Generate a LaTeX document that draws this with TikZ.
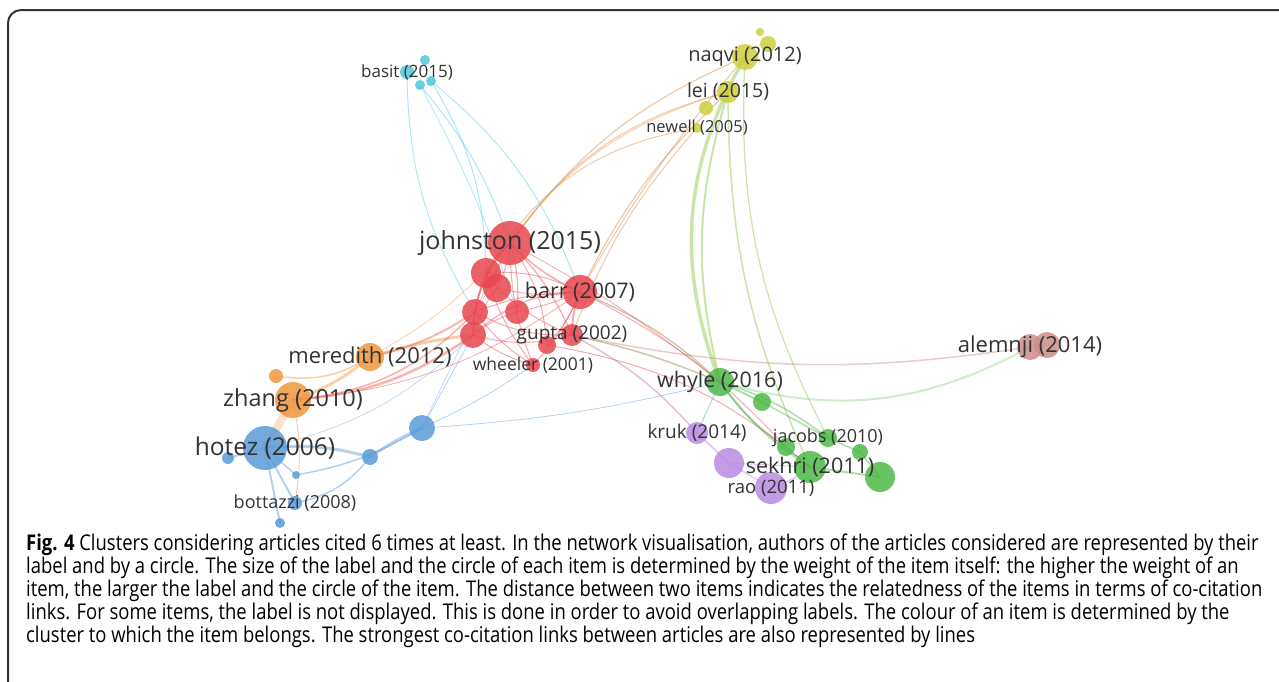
\documentclass[tikz,border=0pt]{standalone}
\usepackage{fontspec}
\usepackage{xcolor}
\newfontfamily\vosfont{Open Sans}
\newfontfamily\capfont[FakeStretch=0.85]{Open Sans}
\definecolor{vRed}{HTML}{E8454E}
\definecolor{vGreen}{HTML}{4DB848}
\definecolor{vBlue}{HTML}{5A9BD8}
\definecolor{vYellow}{HTML}{CBCF3C}
\definecolor{vPurple}{HTML}{B88BE3}
\definecolor{vCyan}{HTML}{4CC9DD}
\definecolor{vOrange}{HTML}{F0963C}
\definecolor{vBrown}{HTML}{C98D88}
\definecolor{vGrey}{HTML}{333333}
\pgfdeclarelayer{links}
\pgfsetlayers{links,main}

\begin{document}
\begin{tikzpicture}[x=1pt,y=-1pt]
    \tikzset{
        item/.style={circle,inner sep=0pt,draw=none,fill=#1,fill opacity=0.85},
        lbl/.style={text=vGrey,inner sep=0pt,font=\vosfont},
        link/.style={draw=#1,draw opacity=0.45,line cap=round},
        capline/.style={anchor=base west,inner sep=0pt,text=black,font=\capfont\fontsize{21.7}{23}\selectfont}
    };
    \useasboundingbox (0,0) rectangle (1279,681);
    \begin{scope}
    \clip (0,0) rectangle (1279,681);
    \draw[vGrey,line width=2pt,rounded corners=13pt] (8,700) -- (8,10) -- (1300,10);
    \end{scope}
    % items
    \foreach \n/\x/\y/\r/\c in {basit/407/72/7/vCyan, c2/425/60/5/vCyan, c3/420/85/5/vCyan, c4/431/81/5/vCyan,
        y1/760/32/4/vYellow, y2/768/44/8/vYellow, naqvi/745/57/13/vYellow, lei/728/92/11/vYellow, y3/706/108/7/vYellow, newell/697/128/5/vYellow,
        johnston/510/243/22/vRed, r1/486/273/15/vRed, r2/497/288/14/vRed, barr/580/292/17/vRed, r3/475/312/13/vRed,
        r4/517/312/12/vRed, r5/473/335/13/vRed, r6/547/345/9/vRed, gupta/572/335/11/vRed, wheeler/533/365/7/vRed,
        meredith/370/357/14/vOrange, o1/276/376/7/vOrange, zhang/293/400/18/vOrange,
        hotez/265/448/22/vBlue, b1/422/428/13/vBlue, b2/370/457/8/vBlue, b3/228/458/6/vBlue, b4/296/475/4/vBlue,
        bottazzi/295/503/7/vBlue, b5/280/523/5/vBlue,
        whyle/720/382/14/vGreen, g1/762/402/9/vGreen, g2/786/447/9/vGreen, jacobs/828/438/9/vGreen,
        g3/860/452/8/vGreen, sekhri/810/467/16/vGreen, g4/880/477/15/vGreen,
        kruk/697/433/11/vPurple, p1/729/463/15/vPurple, rao/771/488/16/vPurple,
        alemnji/1030/347/13/vBrown, a2/1047/345/13/vBrown}{
        \node[item=\c,minimum size={2*\r}] (\n) at (\x,\y) {};
    }
    % co-citation links
    \begin{pgfonlayer}{links}
    \foreach \a/\b/\bd/\c/\w in {johnston/r1/10/vRed/1.2, johnston/r2/-10/vRed/1.2, johnston/barr/10/vRed/1.5, johnston/r3/15/vRed/1.2,
        johnston/r4/-10/vRed/1.2, johnston/r5/20/vRed/1.5, johnston/r6/-15/vRed/1, johnston/gupta/-10/vRed/1.2, johnston/wheeler/10/vRed/1,
        r1/barr/-15/vRed/1, r1/r5/10/vRed/1, r2/barr/10/vRed/1, r2/gupta/10/vRed/1, r3/barr/-10/vRed/1, r3/gupta/15/vRed/1,
        r4/r5/10/vRed/1, r5/barr/-20/vRed/1.2, r5/gupta/15/vRed/1, r5/wheeler/10/vRed/1, r6/barr/10/vRed/1, barr/gupta/10/vRed/2,
        barr/wheeler/-10/vRed/1, r3/wheeler/10/vRed/1, r4/barr/5/vRed/1, r1/wheeler/10/vRed/1, r2/r5/10/vRed/1,
        johnston/naqvi/-15/vRed!50!vYellow/1.2, johnston/lei/-20/vRed!50!vYellow/1, barr/lei/-10/vRed!50!vYellow/1.2,
        r1/newell/-25/vRed!50!vYellow/1, barr/naqvi/-5/vRed!50!vYellow/1, gupta/newell/-10/vRed!50!vYellow/1, r3/lei/-25/vOrange/1,
        whyle/naqvi/-25/vGreen!50!vYellow/3.5, whyle/lei/-15/vGreen!50!vYellow/2, sekhri/lei/-12/vGreen!50!vYellow/1.5, jacobs/naqvi/-15/vGreen!50!vYellow/1.2,
        c3/johnston/-10/vCyan/1, c4/r1/-15/vCyan/1, c4/barr/-15/vCyan/1, basit/r3/15/vCyan/1, c3/r4/-5/vCyan/0.8,
        meredith/r5/-5/vOrange/3, zhang/r5/15/vRed!70!vOrange/2.5, zhang/meredith/10/vOrange/3, o1/meredith/20/vOrange/1.5,
        zhang/r3/20/vRed!70!vOrange/1.5, meredith/r3/10/vRed!70!vOrange/2, zhang/hotez/0/vOrange!60/8, meredith/johnston/10/vOrange/0.8,
        zhang/barr/15/vRed/0.8, zhang/bottazzi/-10/vOrange/1,
        hotez/b2/-10/vBlue/3, b2/b1/-5/vBlue/3, hotez/bottazzi/0/vBlue/2, hotez/b5/0/vBlue/2, hotez/b3/0/vBlue/2, hotez/b4/0/vBlue/1.5,
        bottazzi/b2/20/vBlue/1.5, b4/b1/10/vBlue/1.5, b1/r5/0/vBlue/0.8, b1/wheeler/5/vBlue/0.8, b1/johnston/0/vBlue/0.6,
        b1/whyle/5/vBlue/0.8, hotez/r5/15/vBlue/0.6,
        whyle/g1/0/vGreen/2, whyle/g2/10/vGreen/1.5, whyle/sekhri/10/vGreen/2, whyle/jacobs/-10/vGreen/1.5, g1/jacobs/0/vGreen/1.5,
        jacobs/g3/0/vGreen/1.5, sekhri/g4/0/vGreen/2, g3/g4/0/vGreen/1.5, sekhri/g2/0/vGreen/1.5, whyle/alemnji/22/vGreen!60/2,
        gupta/alemnji/10/vBrown/1.5,
        barr/whyle/-10/vRed!40!vGreen/1.5, gupta/whyle/-5/vRed!40!vGreen/1.5, r6/sekhri/-15/vRed/1, johnston/whyle/-5/vRed/0.8,
        gupta/kruk/-10/vRed!40!vPurple/1.5, barr/g2/-10/vRed/1,
        kruk/p1/0/vPurple/2, p1/rao/0/vPurple/1.5, rao/sekhri/10/vPurple/1.5, kruk/whyle/0/vBlue!60!vGreen/1, p1/sekhri/0/vPurple/1}{
        \draw[link=\c,line width=\w] (\a.center) to[bend right=\bd] (\b.center);
    }
    \end{pgfonlayer}
    % labels
    \foreach \n/\s/\t in {basit/17/basit (2015), naqvi/20/naqvi (2012), lei/19.5/lei (2015), newell/16.5/newell (2005),
        johnston/25/johnston (2015), barr/21.5/barr (2007), gupta/19/gupta (2002), wheeler/17.5/wheeler (2001),
        meredith/22/meredith (2012), zhang/23.5/zhang (2010), hotez/24.5/hotez (2006), bottazzi/18/bottazzi (2008),
        whyle/21.5/whyle (2016), kruk/19/kruk (2014), jacobs/18/jacobs (2010), sekhri/21.5/sekhri (2011),
        rao/18.5/rao (2011), alemnji/22/alemnji (2014)}{
        \node[lbl,font=\vosfont\fontsize{\s}{\s}\selectfont] (\n-l) at (\n) {\t};
    }
    % caption
    \node[capline] (cap1) at (26,550) {\textbf{Fig. 4} Clusters considering articles cited 6 times at least. In the network visualisation, authors of the articles considered are represented by their};
    \node[capline] (cap2) at (26,573) {label and by a circle. The size of the label and the circle of each item is determined by the weight of the item itself: the higher the weight of an};
    \node[capline] (cap3) at (26,596) {item, the larger the label and the circle of the item. The distance between two items indicates the relatedness of the items in terms of co-citation};
    \node[capline] (cap4) at (26,619) {links. For some items, the label is not displayed. This is done in order to avoid overlapping labels. The colour of an item is determined by the};
    \node[capline] (cap5) at (26,642) {cluster to which the item belongs. The strongest co-citation links between articles are also represented by lines};
\end{tikzpicture}
\end{document}
